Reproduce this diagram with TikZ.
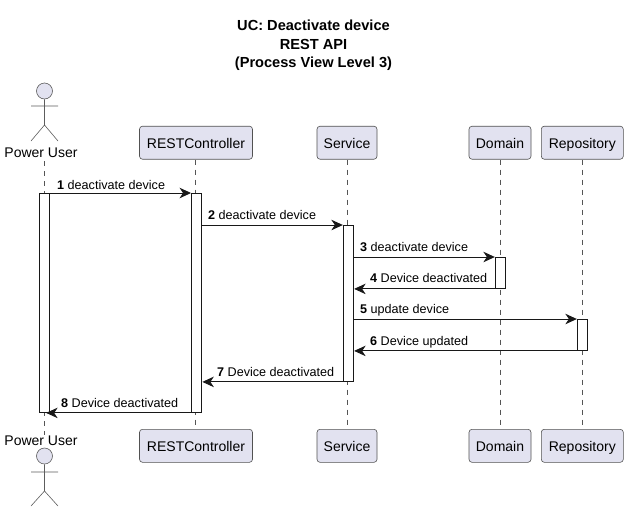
\documentclass[tikz,border=0pt]{standalone}
\usepackage{fontspec}
\setmainfont{Liberation Sans}
\usetikzlibrary{arrows.meta,calc}
\definecolor{partfill}{HTML}{E2E2F0}
\definecolor{partline}{HTML}{181818}
\definecolor{lifeline}{HTML}{555555}
\tikzset{
  part/.style={draw=partline!75,fill=partfill,rounded corners=3pt,line width=.6pt,minimum height=33pt,inner sep=0pt,font=\fontsize{14}{16}\selectfont,text=black,text height=13pt,text depth=1pt},
  bar/.style={draw=partline,fill=white,line width=.9pt,minimum width=10.4pt,inner sep=0pt,anchor=north},
  msg/.style={draw=partline,line width=.9pt,-{Stealth[length=11.5pt,width=10.5pt,inset=3.5pt]}},
  lbl/.style={anchor=base west,inner sep=0pt,font=\fontsize{12.6}{14}\selectfont,text=black},
  life/.style={draw=lifeline,line width=.6pt,dash pattern=on 5pt off 5pt},
  actorlbl/.style={inner sep=0pt,font=\fontsize{14}{16}\selectfont,text=black,text height=10.5pt,text depth=2.5pt},
  stick/.style={draw=partline!70,line width=.6pt},
  head/.style={circle,draw=partline!70,fill=partfill,line width=.6pt,minimum size=16pt,inner sep=0pt},
  titletxt/.style={inner sep=0pt,font=\fontsize{14.6}{16}\selectfont\bfseries,text=black,text height=10pt,text depth=3pt}
}
\newcommand{\numlbl}[2]{\textbf{#1} #2}
\begin{document}
\begin{tikzpicture}[x=1pt,y=-1pt]
\useasboundingbox (0,0) rectangle (628,512);
\fill[white] (0,0) rectangle (628,512);
% title
\node[titletxt] (t1) at (313.5,27) {UC: Deactivate device};
\node[titletxt] (t2) at (313.5,45.5) {REST API};
\node[titletxt] (t3) at (313.5,63.5) {(Process View Level 3)};
% participants
\node[part,minimum width=113pt] (rT) at (196,142.7) {RESTController};
\node[part,minimum width=60pt] (sT) at (347,142.7) {Service};
\node[part,minimum width=62pt] (dT) at (500,142.7) {Domain};
\node[part,minimum width=82pt] (pT) at (582.3,142.7) {Repository};
\node[part,minimum width=113pt] (rB) at (196,445.8) {RESTController};
\node[part,minimum width=60pt] (sB) at (347,445.8) {Service};
\node[part,minimum width=62pt] (dB) at (500,445.8) {Domain};
\node[part,minimum width=82pt] (pB) at (582.3,445.8) {Repository};
\node[actorlbl] (aT) at (41,153.5) {Power User};
\node[actorlbl] (aB) at (41,441.5) {Power User};
% lifelines
\draw[life] (44.4,161) -- (aB.north -| 44.4,0);
\draw[life] (rT.south -| 195.4,0) -- (rB.north -| 195.4,0);
\draw[life] (sT) -- (sB);
\draw[life] (dT) -- (dB);
\draw[life] (pT) -- (pB);
% actors
\node[head] (hT) at (44.5,91) {};
\draw[stick] (hT.south) -- (44.5,125) (31,106) -- (58,106) (31,141) -- (44.5,125) -- (58,141);
\node[head] (hB) at (44.5,456) {};
\draw[stick] (hB.south) -- (44.5,491) (31,472) -- (58,472) (31,506) -- (44.5,491) -- (58,506);
% activation bars
\node[bar,minimum height=219pt] (a1) at (44.5,193) {};
\node[bar,minimum height=219pt] (r1) at (196.7,193) {};
\node[bar,minimum height=156pt] (s1) at (348.5,225) {};
\node[bar,minimum height=31pt] (d1) at (500.5,257) {};
\node[bar,minimum height=31pt] (p1) at (582.5,319) {};
% messages
\draw[msg] (a1.north east) -- (r1.north west);
\draw[msg] (r1.east |- s1.north) -- (s1.north west);
\draw[msg] (s1.east |- d1.north) -- (d1.north west);
\draw[msg] (d1.south west) -- (s1.east |- d1.south);
\draw[msg] (s1.east |- p1.north) -- (p1.north west);
\draw[msg] (p1.south west) -- (s1.east |- p1.south);
\draw[msg] (s1.south west) -- (r1.east |- s1.south);
\draw[msg] (r1.south west) -- ($(a1.south east)+(-4,0)$);
% labels
\node[lbl] (l1) at (57,189) {\numlbl{1}{deactivate device}};
\node[lbl] (l2) at (208,219.5) {\numlbl{2}{deactivate device}};
\node[lbl] (l3) at (360,251) {\numlbl{3}{deactivate device}};
\node[lbl] (l4) at (370,282) {\numlbl{4}{Device deactivated}};
\node[lbl] (l5) at (360,313.5) {\numlbl{5}{update device}};
\node[lbl] (l6) at (370,345) {\numlbl{6}{Device updated}};
\node[lbl] (l7) at (217,376) {\numlbl{7}{Device deactivated}};
\node[lbl] (l8) at (61,407) {\numlbl{8}{Device deactivated}};
\end{tikzpicture}
\end{document}
